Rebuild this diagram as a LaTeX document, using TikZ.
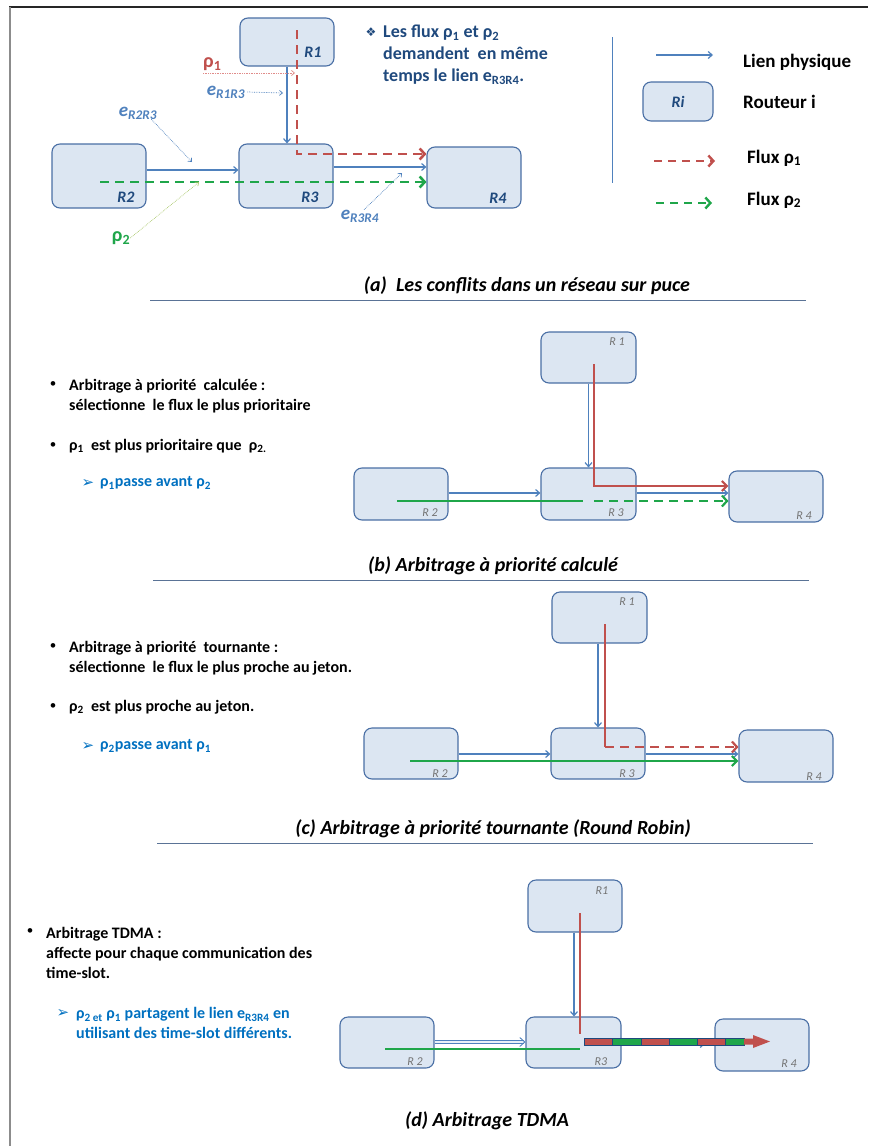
\documentclass[tikz,border=0pt]{standalone}
\usepackage{fontspec}
\setmainfont{Carlito}
\newfontfamily\dingfont{DejaVu Sans}
\usetikzlibrary{arrows.meta, positioning}

\definecolor{routerfill}{HTML}{DCE6F2}
\definecolor{routerline}{HTML}{4A6FA5}
\definecolor{linkblue}{HTML}{4F81BD}
\definecolor{fluxred}{HTML}{C0504D}
\definecolor{fluxgreen}{HTML}{1FA64A}
\definecolor{darkblue}{HTML}{1F497D}
\definecolor{itemblue}{HTML}{0070C0}
\definecolor{sepline}{HTML}{5A7396}
\definecolor{tagred}{HTML}{E08C8A}
\definecolor{taggreen}{HTML}{A9C76A}

\begin{document}
\begin{tikzpicture}[x=1pt, y=-1pt,
    router/.style={draw=routerline, fill=routerfill, rounded corners=8pt, line width=1.1pt, minimum width=94pt, inner sep=0pt},
    link/.style={draw=linkblue, line width=1.2pt, -{Straight Barb[length=4pt,width=7pt]}},
    dlink/.style={draw=linkblue, double=routerfill!60, double distance=1.6pt, line width=0.9pt, -{Straight Barb[length=5pt,width=9pt]}},
    dashflux/.style={line width=2.6pt, dash pattern=on 9pt off 6pt, -{Straight Barb[length=5pt,width=11pt]}},
    solidflux/.style={line width=2.2pt},
    tagline/.style={densely dotted, line width=0.7pt, -{Straight Barb[length=3pt,width=5pt]}},
    rname/.style={font=\bfseries\itshape\fontsize{16}{16}\selectfont, text=darkblue, inner sep=0pt},
    rtag/.style={font=\itshape\fontsize{12}{12}\selectfont, text=black!55, inner sep=0pt},
    elabel/.style={font=\bfseries\itshape\fontsize{19}{19}\selectfont, text=linkblue, inner sep=0pt},
    legend/.style={font=\bfseries\fontsize{19}{19}\selectfont, anchor=west, inner sep=0pt},
    body/.style={font=\bfseries\fontsize{16}{20}\selectfont, anchor=west, align=left, inner sep=0pt},
    dot/.style={font=\fontsize{13}{13}\selectfont, inner sep=0pt},
    arrowitem/.style={font=\dingfont\fontsize{15}{15}\selectfont, text=itemblue, inner sep=0pt},
    caption/.style={font=\bfseries\itshape\fontsize{20}{24}\selectfont, inner sep=0pt},
    sep/.style={draw=sepline, line width=0.8pt}]
\useasboundingbox (0,0) rectangle (868,1146);

% Frame
\draw[line width=1.4pt, black!85] (9,7) -- (868,7);
\draw[line width=2.2pt, black!45] (10,7) -- (10,1146);

% (a) Routers
\node[router, minimum height=48pt] (aR1) at (287,42) {};
\node[router, minimum height=64pt] (aR2) at (99,176) {};
\node[router, minimum height=64pt] (aR3) at (286,176) {};
\node[router, minimum height=61pt] (aR4) at (474,177.5) {};
\node[rname] (aT1) at (313,52) {R1};
\node[rname] (aT2) at (126,197) {R2};
\node[rname] (aT3) at (310,197) {R3};
\node[rname] (aT4) at (498,198) {R4};

% (a) Physical links
\draw[link] (aR1.south) -- (aR1.south |- aR3.north);
\draw[link] (aR2.east |- 0,170) -- (aR3.west |- 0,170);
\draw[link] (aR3.east |- 0,167) -- (aR4.west |- 0,167);

% (a) Flows
\coordinate (a1s) at (297,30);
\coordinate (a2s) at (100,182);
\draw[dashflux, fluxred] (a1s) |- (aR4.west |- 0,154);
\draw[dashflux, fluxgreen] (a2s) -- (aR4.west |- 0,182);

% (a) Labels
\node[font=\bfseries\fontsize{20}{20}\selectfont, text=fluxred, anchor=south west, inner sep=0pt] (rho1) at (203,71) {ρ\textsubscript{1}};
\coordinate (rho1tip) at (295,73);
\draw[tagline, tagred] (rho1.south west |- rho1tip) -- (rho1tip);
\node[elabel] (e13) at (226,92) {e\textsubscript{R1R3}};
\coordinate (e13tip) at (283,93);
\draw[tagline, linkblue] ([xshift=2pt]e13.east) -- (e13tip);
\node[elabel] (e23) at (138,113) {e\textsubscript{R2R3}};
\coordinate (e23tip) at (192,162);
\draw[tagline, linkblue] ([xshift=-6pt]e23.south east) -- (e23tip);
\node[font=\bfseries\fontsize{20}{20}\selectfont, text=fluxgreen, inner sep=0pt] (rho2) at (121,238) {ρ\textsubscript{2}};
\coordinate (rho2tip) at (199,182);
\draw[tagline, taggreen] (rho2.east) -- (rho2tip);
\node[elabel] (e34) at (360,216) {e\textsubscript{R3R4}};
\coordinate (e34tip) at (402,173);
\draw[tagline, linkblue] ([xshift=4pt]e34.north) -- (e34tip);

% (a) Note
\node[font=\dingfont\fontsize{12}{12}\selectfont, text=darkblue, inner sep=0pt] (star) at (371,32) {❖};
\node[font=\bfseries\fontsize{18}{22}\selectfont, text=darkblue, anchor=west, align=left, inner sep=0pt] (note) at (383,55)
  {Les flux ρ\textsubscript{1} et ρ\textsubscript{2}\\demandent\ \ en même\\temps le lien e\textsubscript{R3R4}.};

% Legend
\draw[draw=linkblue, line width=0.8pt] (612,37) -- (612,183);
\coordinate (lgA) at (656,55);
\coordinate (lgB) at (713,55);
\draw[link] (lgA) -- (lgB);
\node[legend] (lgT1) at (743,62) {Lien physique};
\node[router, minimum width=70pt, minimum height=39pt] (lgR) at (678,101.5) {};
\node[rname] (lgRT) at (lgR) {Ri};
\node[legend] (lgT2) at (743,102) {Routeur i};
\coordinate (lgC) at (654,161);
\coordinate (lgD) at (715,161);
\draw[dashflux, fluxred, line width=2.4pt, dash pattern=on 8pt off 6pt] (lgC) -- (lgD);
\node[legend] (lgT3) at (747,158) {Flux ρ\textsubscript{1}};
\coordinate (lgE) at (656,203);
\coordinate (lgF) at (712,203);
\draw[dashflux, fluxgreen, line width=2.4pt, dash pattern=on 8pt off 6pt] (lgE) -- (lgF);
\node[legend] (lgT4) at (747,200) {Flux ρ\textsubscript{2}};

\node[caption] (capA) at (527,286) {(a)\ \ Les conflits dans un réseau sur puce};
\draw[sep] (150,300) -- (806,300);

% (b) Text
\node[dot] (bD1) at (53,385) {•};
\node[body] (bX1) at (69,396) {Arbitrage à priorité\ \ calculée :\\sélectionne\ \ le flux le plus prioritaire};
\node[dot] (bD2) at (53,446) {•};
\node[body] (bX2) at (69,446) {ρ\textsubscript{1}\ \ est plus prioritaire que\ \ ρ\textsubscript{2.}};
\node[arrowitem] (bA1) at (88,483) {➢};
\node[body, text=itemblue] (bX3) at (100,483) {ρ\textsubscript{1}passe avant ρ\textsubscript{2}};

% (b) Routers
\node[router, minimum height=51pt, minimum width=95pt] (bR1) at (588.5,357.5) {};
\node[router, minimum height=52pt] (bR2) at (401,494) {};
\node[router, minimum height=52pt, minimum width=95pt] (bR3) at (588.5,494) {};
\node[router, minimum height=51pt] (bR4) at (776,496.5) {};
\node[rtag] (bT1) at (617,342) {R 1};
\node[rtag] (bT2) at (430,513) {R 2};
\node[rtag] (bT3) at (616,513) {R 3};
\node[rtag] (bT4) at (804,516) {R 4};

% (b) Links and flows
\draw[link] (bR1.south) -- (bR3.north);
\draw[link] (bR2.east |- 0,493) -- (bR3.west |- 0,493);
\draw[link] (bR3.east |- 0,493) -- (bR4.west |- 0,493);
\coordinate (b1s) at (594,364);
\draw[solidflux, fluxred, -{Straight Barb[length=5pt,width=10pt]}] (b1s) |- (bR4.west |- 0,486);
\coordinate (b2s) at (397,501);
\coordinate (b2m) at (583,501);
\coordinate (b2n) at (594,501);
\draw[solidflux, fluxgreen] (b2s) -- (b2m);
\draw[dashflux, fluxgreen, line width=2.2pt] (b2n) -- (bR4.west |- 0,501);

\node[caption] (capB) at (493,566) {(b) Arbitrage à priorité calculé};
\draw[sep] (153,580) -- (809,580);

% (c) Text
\node[dot] (cD1) at (53,647) {•};
\node[body] (cX1) at (69,658) {Arbitrage à priorité\ \ tournante :\\sélectionne\ \ le flux le plus proche au jeton.};
\node[dot] (cD2) at (53,707) {•};
\node[body] (cX2) at (69,707) {ρ\textsubscript{2}\ \ est plus proche au jeton.};
\node[arrowitem] (cA1) at (88,746) {➢};
\node[body, text=itemblue] (cX3) at (100,746) {ρ\textsubscript{2}passe avant ρ\textsubscript{1}};

% (c) Routers
\node[router, minimum height=51pt, minimum width=95pt] (cR1) at (599.5,617.5) {};
\node[router, minimum height=51pt] (cR2) at (411,753.5) {};
\node[router, minimum height=51pt] (cR3) at (598,753.5) {};
\node[router, minimum height=52pt] (cR4) at (786,756) {};
\node[rtag] (cT1) at (627,602) {R 1};
\node[rtag] (cT2) at (440,774) {R 2};
\node[rtag] (cT3) at (627,774) {R 3};
\node[rtag] (cT4) at (814,777) {R 4};

% (c) Links and flows
\draw[link] (cR3.north |- cR1.south) -- (cR3.north);
\draw[link] (cR2.east |- 0,754) -- (cR3.west |- 0,754);
\draw[link] (cR3.east |- 0,754) -- (cR4.west |- 0,754);
\coordinate (c1s) at (605,624);
\coordinate (c1m) at (605,747);
\draw[solidflux, fluxred] (c1s) -- (c1m);
\draw[dashflux, fluxred, line width=2.2pt] (c1m) -- (cR4.west |- 0,747);
\coordinate (c2s) at (410,761);
\draw[solidflux, fluxgreen, -{Straight Barb[length=5pt,width=10pt]}] (c2s) -- (cR4.west |- 0,761);

\node[caption] (capC) at (493,829) {(c) Arbitrage à priorité tournante (Round Robin)};
\draw[sep] (157,843) -- (813,843);

% (d) Text
\node[dot] (dD1) at (30,932) {•};
\node[body] (dX1) at (46,953) {Arbitrage TDMA :\\affecte pour chaque communication des\\time-slot.};
\node[arrowitem] (dA1) at (63,1013) {➢};
\node[body, text=itemblue] (dX2) at (76,1023) {ρ\textsubscript{2 et} ρ\textsubscript{1} partagent le lien e\textsubscript{R3R4} en\\utilisant des time-slot différents.};

% (d) Routers
\node[router, minimum height=52pt] (dR1) at (575,906) {};
\node[router, minimum height=51pt] (dR2) at (387,1042.5) {};
\node[router, minimum height=51pt, minimum width=95pt] (dR3) at (573.5,1042.5) {};
\node[router, minimum height=52pt] (dR4) at (762,1045) {};
\node[rtag] (dT1) at (602,891) {R1};
\node[rtag] (dT2) at (415,1062) {R 2};
\node[rtag] (dT3) at (601,1062) {R3};
\node[rtag] (dT4) at (789,1064) {R 4};

% (d) Links and flows
\draw[link] (dR1.south -| 574,0) -- (dR3.north -| 574,0);
\draw[dlink] (dR2.east |- 0,1042) -- (dR3.west |- 0,1042);
\coordinate (d34tip) at (705,1044);
\draw[link] (dR3.east |- 0,1044) -- (d34tip);
\coordinate (d1s) at (580,913);
\coordinate (d1e) at (580,1034);
\draw[solidflux, fluxred] (d1s) -- (d1e);
\coordinate (d2s) at (385,1049);
\coordinate (d2e) at (580,1049);
\draw[solidflux, fluxgreen] (d2s) -- (d2e);

% (d) Time slots on e_R3R4
\foreach \xa/\xb/\col in {584/612/fluxred, 612/641/fluxgreen, 641/669/fluxred, 669/697/fluxgreen, 697/725/fluxred, 725/744/fluxgreen}
  \filldraw[fill=\col, draw=darkblue, line width=0.9pt] (\xa,1038) rectangle (\xb,1045);
\fill[fluxred] (744,1038.5) -- (753,1038.5) -- (753,1035) -- (770,1041.5) -- (753,1048) -- (753,1044.5) -- (744,1044.5) -- cycle;

\node[caption] (capD) at (487,1121) {(d) Arbitrage TDMA};
\end{tikzpicture}
\end{document}
